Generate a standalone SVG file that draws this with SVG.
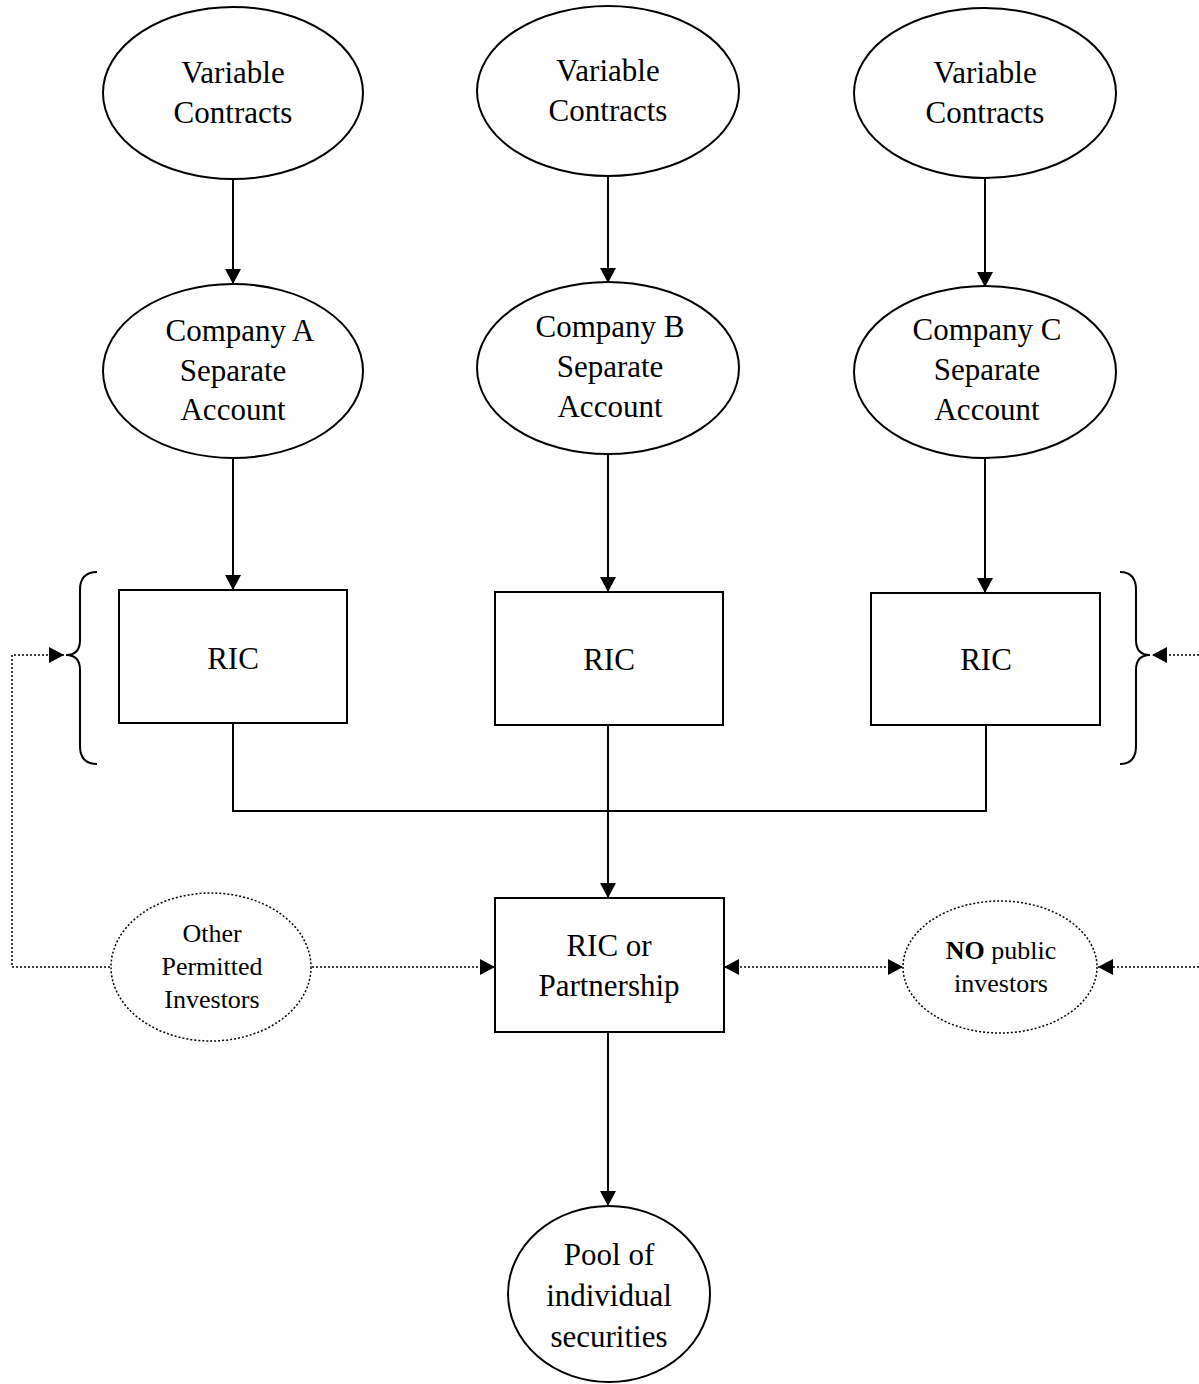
<svg xmlns="http://www.w3.org/2000/svg" width="1199" height="1384" viewBox="0 0 1199 1384">
<defs>
<marker id="arr" markerWidth="15" markerHeight="16" refX="15" refY="8" orient="auto" markerUnits="userSpaceOnUse">
<path d="M0,0 L15,8 L0,16 Z" fill="#000"/>
</marker>
<marker id="arrS" markerWidth="15" markerHeight="16" refX="0" refY="8" orient="auto" markerUnits="userSpaceOnUse">
<path d="M15,0 L0,8 L15,16 Z" fill="#000"/>
</marker>
<style>
.n{fill:#fff;stroke:#000;stroke-width:2}
.d{fill:#fff;stroke:#000;stroke-width:1.5;stroke-dasharray:2 2}
.t{font-family:"Liberation Serif","Times New Roman",serif;font-size:31px;fill:#000;text-anchor:middle}
.s{font-family:"Liberation Serif","Times New Roman",serif;font-size:26px;fill:#000;text-anchor:middle}
.c{fill:none;stroke:#000;stroke-width:2}
.cd{fill:none;stroke:#000;stroke-width:1.5;stroke-dasharray:2 2}
</style>
</defs>
<rect width="1199" height="1384" fill="#fff"/>
<g id="connectors">
<line class="c" x1="233" y1="178" x2="233" y2="284" marker-end="url(#arr)"/>
<line class="c" x1="608" y1="176" x2="608" y2="283" marker-end="url(#arr)"/>
<line class="c" x1="985" y1="178" x2="985" y2="287" marker-end="url(#arr)"/>
<line class="c" x1="233" y1="458" x2="233" y2="590" marker-end="url(#arr)"/>
<line class="c" x1="608" y1="454" x2="608" y2="592" marker-end="url(#arr)"/>
<line class="c" x1="985" y1="458" x2="985" y2="593" marker-end="url(#arr)"/>
<polyline class="c" points="233,723 233,811 986,811 986,725"/>
<line class="c" x1="608" y1="725" x2="608" y2="811"/>
<line class="c" x1="608" y1="811" x2="608" y2="898" marker-end="url(#arr)"/>
<line class="c" x1="608" y1="1032" x2="608" y2="1206" marker-end="url(#arr)"/>
<path class="c" d="M97,572 Q80,572 80,590 L80,640 Q80,655 66,655 Q80,655 80,670 L80,746 Q80,764 97,764"/>
<path class="c" d="M1120,572 Q1136,572 1136,590 L1136,640 Q1136,655 1150,655 Q1136,655 1136,670 L1136,746 Q1136,764 1120,764"/>
<polyline class="cd" points="110,967 12,967 12,655 64,655" marker-end="url(#arr)"/>
<line class="cd" x1="312" y1="967" x2="495" y2="967" marker-end="url(#arr)"/>
<line class="cd" x1="724" y1="967" x2="903" y2="967" marker-start="url(#arrS)" marker-end="url(#arr)"/>
<line class="cd" x1="1199" y1="967" x2="1098" y2="967" marker-end="url(#arr)"/>
<line class="cd" x1="1199" y1="655" x2="1152" y2="655" marker-end="url(#arr)"/>
</g>
<g id="vcA"><ellipse class="n" cx="233" cy="93" rx="130" ry="86"/><text class="t" x="233" y="83">Variable</text><text class="t" x="233" y="123">Contracts</text></g>
<g id="vcB"><ellipse class="n" cx="608" cy="91" rx="131" ry="85"/><text class="t" x="608" y="81">Variable</text><text class="t" x="608" y="121">Contracts</text></g>
<g id="vcC"><ellipse class="n" cx="985" cy="93" rx="131" ry="85"/><text class="t" x="985" y="83">Variable</text><text class="t" x="985" y="123">Contracts</text></g>
<g id="saA"><ellipse class="n" cx="233" cy="371" rx="130" ry="87"/><text class="t" x="240" y="341">Company A</text><text class="t" x="233" y="381">Separate</text><text class="t" x="233" y="420">Account</text></g>
<g id="saB"><ellipse class="n" cx="608" cy="368" rx="131" ry="86"/><text class="t" x="610" y="337">Company B</text><text class="t" x="610" y="377">Separate</text><text class="t" x="610" y="417">Account</text></g>
<g id="saC"><ellipse class="n" cx="985" cy="372" rx="131" ry="86"/><text class="t" x="987" y="340">Company C</text><text class="t" x="987" y="380">Separate</text><text class="t" x="987" y="420">Account</text></g>
<g id="ricA"><rect class="n" x="119" y="590" width="228" height="133"/><text class="t" x="233" y="669">RIC</text></g>
<g id="ricB"><rect class="n" x="495" y="592" width="228" height="133"/><text class="t" x="609" y="670">RIC</text></g>
<g id="ricC"><rect class="n" x="871" y="593" width="229" height="132"/><text class="t" x="986" y="670">RIC</text></g>
<g id="ricP"><rect class="n" x="495" y="898" width="229" height="134"/><text class="t" x="609" y="956">RIC or</text><text class="t" x="609" y="996">Partnership</text></g>
<g id="other"><ellipse class="d" cx="211" cy="967" rx="100" ry="74"/><text class="s" x="212" y="942">Other</text><text class="s" x="212" y="975">Permitted</text><text class="s" x="212" y="1008">Investors</text></g>
<g id="nopublic"><ellipse class="d" cx="1000" cy="967" rx="97" ry="66"/><text class="s" x="1001" y="959"><tspan font-weight="bold">NO</tspan> public</text><text class="s" x="1001" y="992">investors</text></g>
<g id="pool"><ellipse class="n" cx="609" cy="1294" rx="101" ry="88"/><text class="t" x="609" y="1265">Pool of</text><text class="t" x="609" y="1306">individual</text><text class="t" x="609" y="1347">securities</text></g>
</svg>
